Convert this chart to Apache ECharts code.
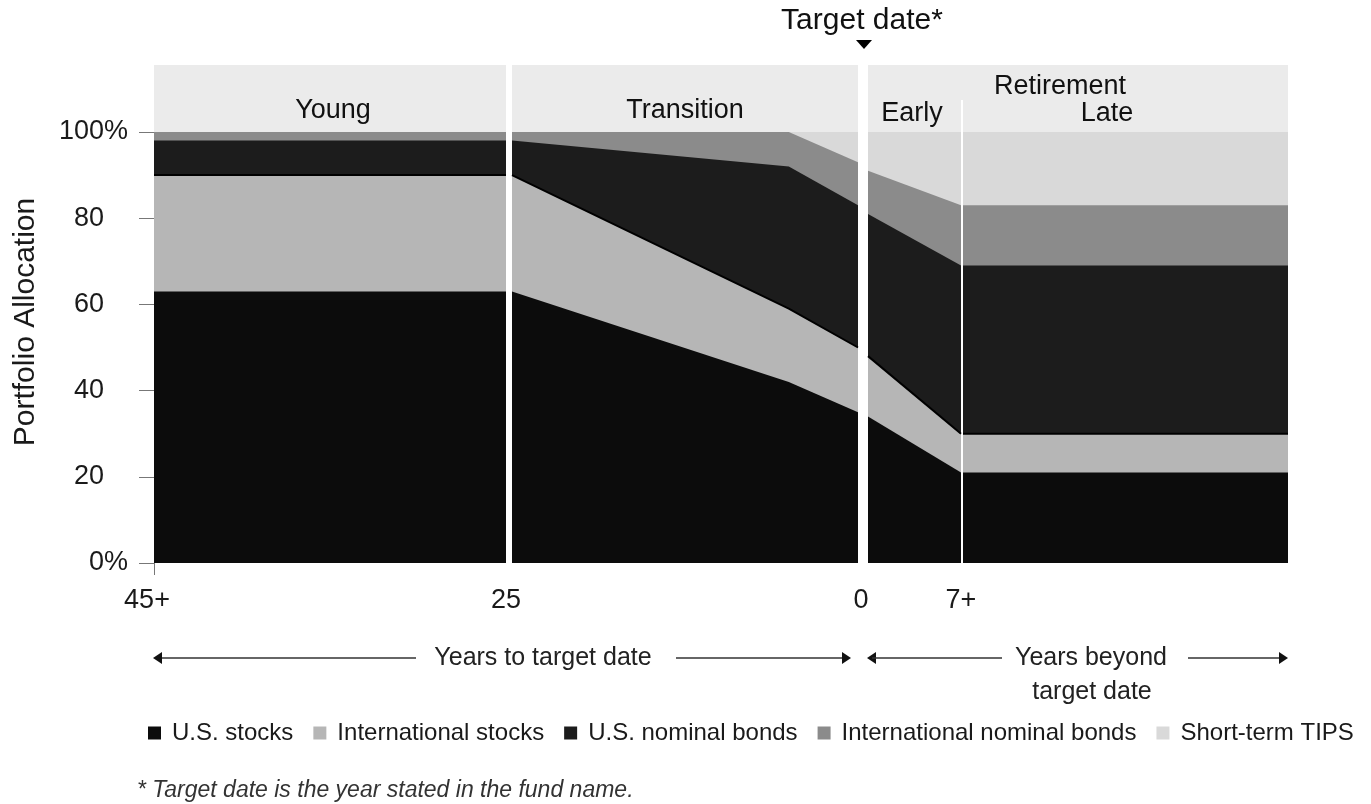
<!DOCTYPE html>
<html>
<head>
<meta charset="utf-8">
<title>Glide path</title>
<script src="https://cdn.jsdelivr.net/npm/echarts@6/dist/echarts.min.js"></script>
<style>
    html, body { margin: 0; padding: 0; background: #fff; }
    #main { width: 1371px; height: 804px; }
</style>
</head>
<body>
<div id="main"></div>
<script>
// breakpoints of the glide path: year relative to target date, and which panel it belongs to
var years = [-45, -25, -25, -5, 0, 0, 7, 7, 20];
var panel = [0, 0, 1, 1, 1, 2, 2, 3, 3];

// allocation (%) at each breakpoint
var usStocks   = [63, 63, 63, 42, 35, 34, 21, 21, 21];
var intlStocks = [27, 27, 27, 17, 15, 14, 9, 9, 9];
var usBonds    = [8, 8, 8, 33, 33, 33, 39, 39, 39];
var intlBonds  = [2, 2, 2, 8, 10, 10, 14, 14, 14];
var tips       = [0, 0, 0, 0, 7, 9, 17, 17, 17];

var seriesNames = ['U.S. stocks', 'International stocks', 'U.S. nominal bonds', 'International nominal bonds', 'Short-term TIPS'];
var panelRanges = [[-45, -25], [-25, 0], [0, 7], [7, 20]];
var panelLabels = ['Young', 'Transition', 'Early', 'Late'];

(function () {

    var chart = echarts.init(document.getElementById('main'));

    var colors = ['#0c0c0c', '#b6b6b6', '#1c1c1c', '#8b8b8b', '#d9d9d9'];
    var values = [usStocks, intlStocks, usBonds, intlBonds, tips];

    // running totals, so each band can be filled down to 0 and covered by the ones below it
    var cumulative = [];
    values.forEach(function (arr, s) {
        cumulative.push(arr.map(function (v, i) {
            return s === 0 ? v : cumulative[s - 1][i] + v;
        }));
    });

    // panel boxes (px)
    var boxes = [
        { left: 154, width: 352 },
        { left: 512, width: 346 },
        { left: 868, width: 93 },
        { left: 963, width: 325 }
    ];
    var plotTop = 132, plotH = 431, headTop = 65;

    var font = 'Liberation Sans, Arial, sans-serif';
    var labelStyle = { fontSize: 27, color: '#1a1a1a', fontFamily: font };

    var grids = [], xAxes = [], yAxes = [], series = [];

    boxes.forEach(function (b, p) {
        grids.push({ left: b.left, width: b.width, top: plotTop, height: plotH, outerBoundsMode: 'none' });

        var x = {
            type: 'value', gridIndex: p, min: panelRanges[p][0], max: panelRanges[p][1],
            axisLine: { show: false }, splitLine: { show: false },
            axisTick: { show: false },
            axisLabel: { show: false }
        };
        if (p === 0) {
            x.axisTick = { show: true, customValues: [-45], length: 12, lineStyle: { color: '#777' } };
            x.axisLabel = Object.assign({
                show: true, customValues: [-45, -25], margin: 24,
                formatter: function (v) { return v === -45 ? '{l|45+}' : '25'; },
                rich: { l: { fontSize: 27, fontFamily: font, color: '#1a1a1a', padding: [0, 14, 0, 0] } }
            }, labelStyle);
        } else if (p === 1) {
            x.axisLabel = Object.assign({
                show: true, customValues: [0], margin: 24, padding: [0, 0, 0, 6],
                formatter: function () { return '0'; }
            }, labelStyle);
        } else if (p === 2) {
            x.axisLabel = Object.assign({
                show: true, customValues: [7], margin: 24,
                formatter: function () { return '7+'; }
            }, labelStyle);
        }
        xAxes.push(x);

        var y = { type: 'value', gridIndex: p, min: 0, max: 100, interval: 20, show: p === 0, splitLine: { show: false } };
        if (p === 0) {
            y.axisLine = { show: false };
            y.axisTick = { show: true, length: 15, lineStyle: { color: '#777' } };
            y.axisLabel = Object.assign({
                margin: 26,
                formatter: function (v) {
                    return (v === 0 || v === 100) ? v + '%' : v + '{h|%}';
                },
                rich: { h: { fontSize: 27, fontFamily: font, color: 'rgba(0,0,0,0)' } }
            }, labelStyle);
        }
        yAxes.push(y);

        // top band first, so lower bands are painted over it
        for (var s = seriesNames.length - 1; s >= 0; s--) {
            var data = [];
            years.forEach(function (yr, i) {
                if (panel[i] === p) data.push([yr, cumulative[s][i]]);
            });
            series.push({
                name: seriesNames[s], type: 'line',
                xAxisIndex: p, yAxisIndex: p,
                data: data, showSymbol: false, symbol: 'none',
                lineStyle: s === 1 ? { color: '#000', width: 2 } : { width: 0 },
                itemStyle: { color: colors[s] },
                areaStyle: { color: colors[s], opacity: 1, origin: 'start' }
            });
        }
    });

    // header band above each panel
    var head = '#ebebeb';
    var headText = { fontSize: 27, fill: '#111', fontFamily: font, textAlign: 'center', textVerticalAlign: 'middle' };
    var noteText = { fontSize: 25, fill: '#222', fontFamily: font, textAlign: 'center', textVerticalAlign: 'middle' };
    var graphics = [
        { type: 'rect', shape: { x: 154, y: headTop, width: 352, height: plotTop - headTop }, style: { fill: head } },
        { type: 'rect', shape: { x: 512, y: headTop, width: 346, height: plotTop - headTop }, style: { fill: head } },
        { type: 'rect', shape: { x: 868, y: headTop, width: 420, height: plotTop - headTop }, style: { fill: head } },
        { type: 'rect', shape: { x: 961, y: 100, width: 2, height: plotTop - 100 }, style: { fill: '#fff' } },
        { type: 'text', x: 333, y: 111, style: Object.assign({ text: panelLabels[0] }, headText) },
        { type: 'text', x: 685, y: 111, style: Object.assign({ text: panelLabels[1] }, headText) },
        { type: 'text', x: 912, y: 114, style: Object.assign({ text: panelLabels[2] }, headText) },
        { type: 'text', x: 1060, y: 87, style: Object.assign({ text: 'Retirement' }, headText) },
        { type: 'text', x: 1107, y: 114, style: Object.assign({ text: panelLabels[3] }, headText) },

        // y axis title
        { type: 'text', x: 26, y: 322, rotation: Math.PI / 2,
          style: Object.assign({}, headText, { text: 'Portfolio Allocation', fontSize: 30, fill: '#1a1a1a' }) },

        // target date marker
        { type: 'text', x: 862, y: 21, style: Object.assign({}, headText, { text: 'Target date*', fontSize: 30 }) },
        { type: 'polygon', shape: { points: [[856, 40], [872, 40], [864, 49]] }, style: { fill: '#000' } },

        // years to / beyond target date arrows
        { type: 'line', shape: { x1: 158, y1: 658, x2: 416, y2: 658 }, style: { stroke: '#333', lineWidth: 1.5 } },
        { type: 'polygon', shape: { points: [[153, 658], [162, 652], [162, 664]] }, style: { fill: '#111' } },
        { type: 'text', x: 543, y: 658, style: Object.assign({ text: 'Years to target date' }, noteText) },
        { type: 'line', shape: { x1: 676, y1: 658, x2: 846, y2: 658 }, style: { stroke: '#333', lineWidth: 1.5 } },
        { type: 'polygon', shape: { points: [[851, 658], [842, 652], [842, 664]] }, style: { fill: '#111' } },
        { type: 'polygon', shape: { points: [[867, 658], [876, 652], [876, 664]] }, style: { fill: '#111' } },
        { type: 'line', shape: { x1: 872, y1: 658, x2: 1002, y2: 658 }, style: { stroke: '#333', lineWidth: 1.5 } },
        { type: 'text', x: 1091, y: 658, style: Object.assign({ text: 'Years beyond' }, noteText) },
        { type: 'text', x: 1092, y: 692, style: Object.assign({ text: 'target date' }, noteText) },
        { type: 'line', shape: { x1: 1188, y1: 658, x2: 1283, y2: 658 }, style: { stroke: '#333', lineWidth: 1.5 } },
        { type: 'polygon', shape: { points: [[1288, 658], [1279, 652], [1279, 664]] }, style: { fill: '#111' } },

        // footnote
        { type: 'text', x: 137, y: 791, style: { text: '* Target date is the year stated in the fund name.', fontSize: 23, fontStyle: 'italic', fill: '#333', fontFamily: font, textVerticalAlign: 'middle' } }
    ];

    var option = {
        animation: false,
        backgroundColor: '#fff',
        grid: grids,
        xAxis: xAxes,
        yAxis: yAxes,
        legend: {
            data: seriesNames,
            left: 148, right: 0, top: 721, padding: 0,
            icon: 'rect', itemWidth: 13, itemHeight: 13, itemGap: 20,
            selectedMode: false,
            textStyle: { fontSize: 24, color: '#1a1a1a', fontFamily: font, padding: [0, 0, 0, 6] }
        },
        graphic: graphics,
        series: series
    };

    chart.setOption(option);

})();
</script>
</body>
</html>
